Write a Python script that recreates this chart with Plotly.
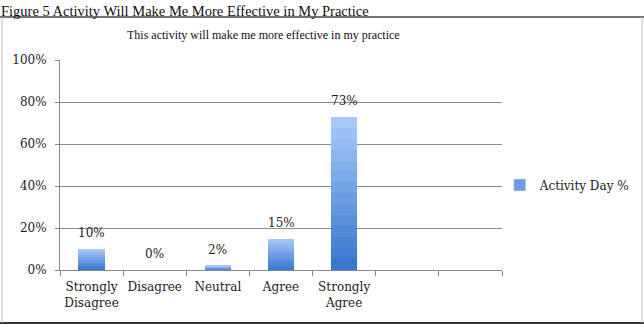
import plotly.graph_objects as go

categories = ["Strongly<br>Disagree", "Disagree", "Neutral", "Agree", "Strongly<br>Agree", " ", "  "]
values = [10, 0, 2, 15, 73, None, None]
labels = ["10%", "0%", "2%", "15%", "73%", "", ""]
series_name = "Activity Day %"
y_ticks = [0, 20, 40, 60, 80, 100]
y_tick_text = ["0%", "20%", "40%", "60%", "80%", "100%"]

FONT = "DejaVu Serif"
N = 14
top_rgb = (166, 199, 247)
bot_rgb = (58, 120, 206)

fig = go.Figure()
for i in range(N):
    t = i / (N - 1)  # 0 bottom -> 1 top
    c = tuple(int(round(bot_rgb[k] + (top_rgb[k] - bot_rgb[k]) * t)) for k in range(3))
    seg = [None if v is None else v / N for v in values]
    fig.add_trace(go.Bar(
        x=categories, y=seg, width=0.42,
        marker=dict(color="rgb(%d,%d,%d)" % c, line=dict(width=0)),
        showlegend=False, hoverinfo="skip", name=series_name,
    ))
# legend entry
fig.add_trace(go.Bar(x=[categories[0]], y=[None], name=series_name,
                     marker=dict(color="#6a9be3"), showlegend=True))

for cat, v, lab in zip(categories, values, labels):
    if v is None:
        continue
    fig.add_annotation(x=cat, y=v, text=lab, showarrow=False, yanchor="middle",
                       yshift=16, font=dict(family=FONT, size=12, color="#222"))

fig.update_layout(
    barmode="stack", bargap=0.58,
    width=644, height=328,
    margin=dict(l=60, r=142, t=60, b=58, autoexpand=False),
    paper_bgcolor="white", plot_bgcolor="white",
    font=dict(family=FONT, size=12, color="#222"),
    legend=dict(x=0.995, y=0.405, xanchor="left", yanchor="middle",
                font=dict(family=FONT, size=12, color="#222"),
                itemwidth=30, bgcolor="rgba(0,0,0,0)"),
)
fig.update_xaxes(type="category", categoryorder="array", categoryarray=categories,
                 range=[-0.5, 6.5], tickson="boundaries", ticks="outside", ticklen=5,
                 tickangle=0, automargin=False, ticklabelstandoff=6,
                 tickcolor="#888", showline=True, linecolor="#888", linewidth=1,
                 showgrid=False, tickfont=dict(family=FONT, size=12, color="#222"))
fig.update_yaxes(range=[0, 100], tickvals=y_ticks, ticktext=y_tick_text,
                 ticks="outside", ticklen=4, tickcolor="#888", showline=True,
                 automargin=False, ticklabelstandoff=6,
                 linecolor="#888", linewidth=1, showgrid=True, gridcolor="#8c8c8c",
                 gridwidth=1, zeroline=False,
                 tickfont=dict(family=FONT, size=12, color="#222"))

# chart title and figure caption
fig.add_annotation(xref="paper", yref="paper", x=(263 - 60) / 442, y=(270 - 35) / 210,
                   text="This activity will make me more effective in my practice",
                   showarrow=False, xanchor="center", yanchor="middle",
                   font=dict(family="Liberation Serif", size=12, color="#111"))
fig.add_annotation(xref="paper", yref="paper", x=(-1 - 60) / 442, y=(270 - 1) / 210,
                   text="Figure 5 Activity Will Make Me More Effective in My Practice",
                   showarrow=False, xanchor="left", yanchor="top",
                   font=dict(family="Liberation Serif", size=14.5, color="#111"))

def px(x):
    return (x - 60) / 442

def py(y):
    return (270 - y) / 210

# frame lines
fig.add_shape(type="line", xref="paper", yref="paper", x0=px(0), x1=px(644), y0=py(17), y1=py(17),
              line=dict(color="#444", width=1.5))
fig.add_shape(type="line", xref="paper", yref="paper", x0=px(0), x1=px(644), y0=py(323), y1=py(323),
              line=dict(color="#333", width=2))
fig.add_shape(type="line", xref="paper", yref="paper", x0=px(2), x1=px(2), y0=py(17), y1=py(323),
              line=dict(color="#bbb", width=1))
fig.add_shape(type="line", xref="paper", yref="paper", x0=px(642), x1=px(642), y0=py(17), y1=py(323),
              line=dict(color="#bbb", width=1))

fig.write_html("out.html")
